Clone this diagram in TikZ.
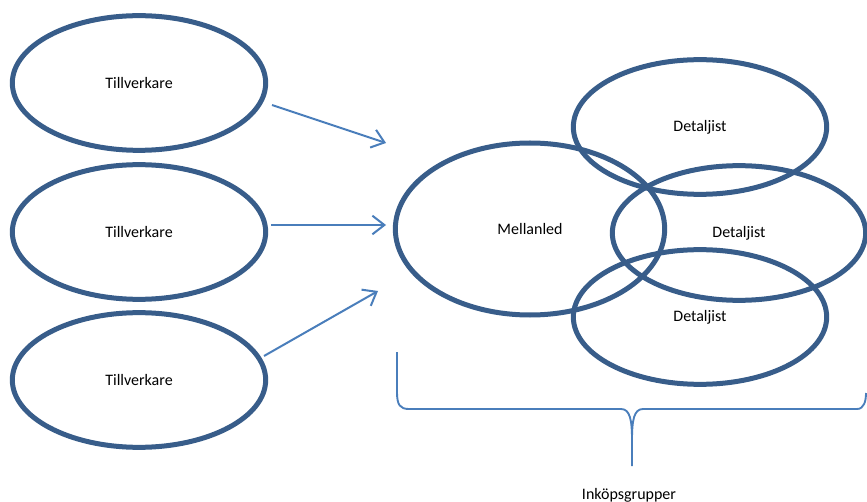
\documentclass[tikz,border=0pt]{standalone}
\usepackage{fontspec}
\setmainfont{Carlito}
\usepackage{xcolor}
\usetikzlibrary{shapes.geometric,arrows.meta}

\definecolor{ringblue}{HTML}{385D8A}
\definecolor{lineblue}{HTML}{4A7EBB}

\tikzset{
  ring/.style={ellipse, draw=ringblue, line width=3.75pt, inner sep=0pt,
    minimum width=190pt, minimum height=101pt, font=\fontsize{12}{14}\selectfont},
  flow/.style={draw=lineblue, line width=1.5pt, -{Straight Barb[length=9pt,width=14pt]}}
}

\begin{document}
\begin{tikzpicture}[x=0.75pt,y=-0.75pt]
\useasboundingbox (0,0) rectangle (867,502);

\node[ring] (maker1) at (139,83) {Tillverkare};
\node[ring] (maker2) at (139,232) {Tillverkare};
\node[ring] (maker3) at (139,380) {Tillverkare};

\node[ring, minimum width=202pt, minimum height=129pt] (middle) at (530,229) {Mellanled};

\node[ring] (shop1) at (700,127) {Detaljist};
\node[ring] (shop2) at (739,233) {Detaljist};
\node[ring] (shop3) at (700,317) {Detaljist};

\coordinate (from1) at (272,105);
\coordinate (to1)   at (386,143);
\coordinate (from2) at (271,225);
\coordinate (to2)   at (386,225);
\coordinate (from3) at (264,356);
\coordinate (to3)   at (378,291);

\draw[flow] (from1) -- (to1);
\draw[flow] (from2) -- (to2);
\draw[flow] (from3) -- (to3);

\draw[lineblue, line width=1.4pt] (397,352) -- (397,392) .. controls (397,405) and (400,409) .. (409,409)
  -- (621,409) .. controls (630,409) and (632,420) .. (632,440) -- (632,466);
\draw[lineblue, line width=1.4pt] (632,440) .. controls (632,420) and (634,409) .. (643,409)
  -- (857,409) .. controls (864,409) and (866,401) .. (866,393);

\node[font=\fontsize{12}{14}\selectfont] (group) at (629,495) {Inköpsgrupper};
\end{tikzpicture}
\end{document}
